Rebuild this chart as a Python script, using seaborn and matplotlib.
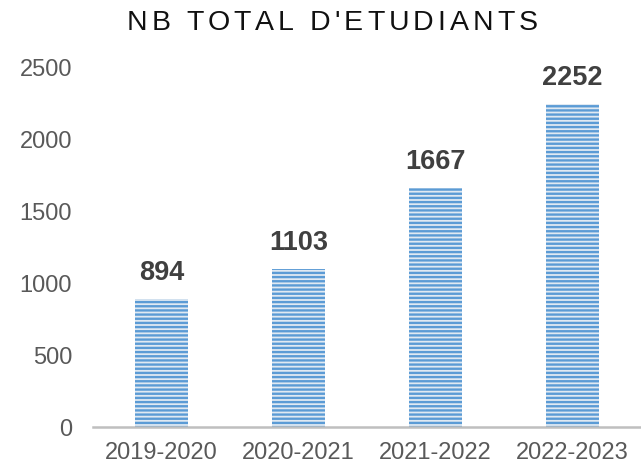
import matplotlib
matplotlib.use("Agg")
import matplotlib.pyplot as plt
import seaborn as sns
import pandas as pd

years = ["2019-2020", "2020-2021", "2021-2022", "2022-2023"]
students = [894, 1103, 1667, 2252]
yticks = [0, 500, 1000, 1500, 2000, 2500]
title_text = "NB TOTAL D'ETUDIANTS"

sns.set_style("white")
plt.rcParams["font.family"] = ["Liberation Sans", "DejaVu Sans"]
plt.rcParams["hatch.linewidth"] = 1.7

W, H = 641, 469
fig = plt.figure(figsize=(W / 100, H / 100), dpi=100)
ax = fig.add_axes([93 / W, 1 - 427 / H, (641 - 93) / W, (427 - 68) / H])

df = pd.DataFrame({"year": years, "n": students})
sns.barplot(data=df, x="year", y="n", ax=ax, width=0.38, color="#dde9f5")
for p in ax.patches:
    p.set_hatch("----")
    p.set_edgecolor("#5b9bd5")
    p.set_linewidth(0)

ax.set_ylim(0, 2500)
ax.set_yticks(yticks)
ax.set_xlabel("")
ax.set_ylabel("")
for s in ["top", "right", "left"]:
    ax.spines[s].set_visible(False)
ax.spines["bottom"].set_color("#bfbfbf")
ax.spines["bottom"].set_linewidth(1.8)
ax.tick_params(axis="y", length=0, pad=15, labelsize=17, labelcolor="#595959")
ax.tick_params(axis="x", length=0, pad=11, labelsize=17, labelcolor="#595959")

for i, v in enumerate(students):
    ax.annotate(str(v), (i, v), xytext=(0, 13.7), textcoords="offset points",
                ha="center", va="baseline", fontsize=19.5, fontweight="bold",
                color="#404040")

# Title with letter spacing
fig.canvas.draw()
r = fig.canvas.get_renderer()
fs = 20.5
spacing = 4.0
widths = []
for ch in title_text:
    t = fig.text(0, 0, ch if ch != " " else "\u00a0", fontsize=fs)
    bb = t.get_window_extent(r)
    widths.append(bb.width)
    t.remove()
total = sum(widths) + spacing * (len(title_text) - 1)
cx = 332
x = cx - total / 2
for ch, w in zip(title_text, widths):
    if ch != " ":
        fig.text(x / W, 1 - 30 / H, ch, fontsize=fs, color="#111111",
                 ha="left", va="baseline")
    x += w + spacing

fig.savefig("out.png", dpi=100)
